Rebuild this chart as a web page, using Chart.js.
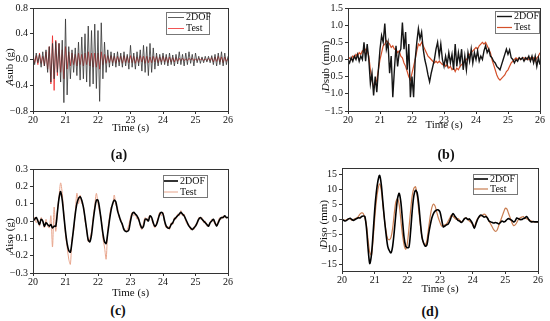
<!DOCTYPE html>
<html>
<head>
<meta charset="utf-8">
<script src="https://cdn.jsdelivr.net/npm/chart.js@4.4.1/dist/chart.umd.min.js"></script>
<style>
  body { margin:0; background:#fff; width:550px; height:321px; position:relative; overflow:hidden; }
  .panel { position:absolute; }
  .tag { position:absolute; font:bold 14px "Liberation Serif", serif; color:#111; transform:translate(-50%,-50%); }
</style>
</head>
<body>
<div class="panel" style="left:0;top:0;width:275px;height:136px"><canvas id="chartA"></canvas></div>
<div class="panel" style="left:275px;top:0;width:275px;height:136px"><canvas id="chartB"></canvas></div>
<div class="panel" style="left:0;top:160px;width:275px;height:140px"><canvas id="chartC"></canvas></div>
<div class="panel" style="left:275px;top:160px;width:275px;height:136px"><canvas id="chartD"></canvas></div>
<div class="tag" style="left:119px;top:155px">(a)</div>
<div class="tag" style="left:446px;top:155px">(b)</div>
<div class="tag" style="left:118px;top:311px">(c)</div>
<div class="tag" style="left:430px;top:312px">(d)</div>

<script>
// ---- data (time axis: 20 s to 26 s, sampled every 0.05 s) ----
const seriesNames = ["2DOF", "Test"];
const timeStart = 20, timeStep = 0.05, sampleCount = 121;
const xTicks = [20, 21, 22, 23, 24, 25, 26];
const yTicksA = [-0.8, -0.6, -0.4, -0.2, 0, 0.2, 0.4, 0.6, 0.8];
const yTicksB = [-1.5, -1.0, -0.5, 0, 0.5, 1.0, 1.5];
const yTicksC = [-0.3, -0.2, -0.1, 0, 0.1, 0.2, 0.3];
const yTicksD = [-15, -10, -5, 0, 5, 10, 15];

// (a) Asub (g)
const asub2dof = [
   0.05,-0.08, 0.10,-0.05, 0.08,-0.12, 0.12,-0.10, 0.15,-0.20,
   0.20,-0.35, 0.25,-0.30, 0.28,-0.20, 0.25,-0.35, 0.30,-0.67,
   0.63,-0.55, 0.20,-0.30, 0.15,-0.20, 0.18,-0.25, 0.27,-0.32,
   0.35,-0.30, 0.40,-0.35, 0.52,-0.42, 0.45,-0.38, 0.55,-0.45,
   0.45,-0.65, 0.57,-0.30, 0.27,-0.20, 0.15,-0.12, 0.12,-0.10,
   0.10,-0.12, 0.12,-0.10, 0.10,-0.12, 0.12,-0.10, 0.08,-0.15,
   0.22,-0.12, 0.10,-0.15, 0.12,-0.10, 0.15,-0.18, 0.22,-0.20,
   0.20,-0.25, 0.25,-0.20, 0.18,-0.15, 0.10,-0.10, 0.08,-0.08,
   0.10,-0.08, 0.08,-0.10, 0.10,-0.08, 0.07,-0.10, 0.08,-0.07,
   0.12,-0.08, 0.08,-0.10, 0.10,-0.08, 0.12,-0.06, 0.08,-0.10,
   0.10,-0.05, 0.05,-0.06, 0.04,-0.05, 0.05,-0.04, 0.05,-0.05,
   0.06,-0.08, 0.08,-0.10, 0.10,-0.08, 0.12,-0.10, 0.10,-0.08,
   0.05];
const asubTest = [
   0.08,-0.05, 0.06,-0.08, 0.10,-0.06, 0.05,-0.10, 0.12,-0.15,
   0.20,-0.38, 0.37,-0.48, 0.30,-0.25, 0.25,-0.20, 0.15,-0.30,
   0.20,-0.15, 0.12,-0.10, 0.10,-0.08, 0.08,-0.10, 0.10,-0.08,
   0.08,-0.10, 0.10,-0.08, 0.12,-0.10, 0.10,-0.12, 0.10,-0.12,
   0.10,-0.15, 0.12,-0.08, 0.08,-0.06, 0.06,-0.05, 0.06,-0.05,
   0.05,-0.06, 0.05,-0.04, 0.05,-0.06, 0.06,-0.05, 0.05,-0.05,
   0.06,-0.05, 0.05,-0.06, 0.04,-0.05, 0.06,-0.04, 0.05,-0.06,
   0.05,-0.05, 0.04,-0.05, 0.05,-0.04, 0.05,-0.05, 0.04,-0.04,
   0.05,-0.04, 0.04,-0.05, 0.04,-0.04, 0.03,-0.04, 0.03,-0.03,
   0.02,-0.02, 0.02,-0.02, 0.01,-0.02, 0.02,-0.01, 0.02,-0.02,
   0.01,-0.02, 0.02,-0.01, 0.02,-0.02, 0.01,-0.02, 0.02,-0.02,
   0.03,-0.04, 0.04,-0.03, 0.05,-0.04, 0.04,-0.05, 0.04,-0.03,
   0.02];

// (b) Dsub (mm)
const dsub2dof = [
   0.00,-0.10, 0.05,-0.05, 0.10, 0.00, 0.15,-0.05, 0.10, 0.00,
   0.50,-0.05, 0.45, 0.00,-0.70,-0.40,-1.05,-0.50,-0.95,-0.30,
   0.30, 0.70, 0.50, 1.05, 0.30, 0.50,-0.40, 0.10,-1.10,-0.30,
   0.40,-0.20, 0.20, 0.30, 1.08, 0.30, 0.80,-0.30, 0.45,-1.10,
  -0.50,-1.10, 0.00, 0.50, 0.90, 0.60, 0.80, 0.30, 0.00,-0.20,
  -0.45,-0.65,-0.40,-0.20, 0.00, 0.30, 0.50, 0.10, 0.45, 0.00,
  -0.20, 0.10,-0.15, 0.20,-0.10, 0.15,-0.30, 0.45,-0.20, 0.20,
  -0.10, 0.30,-0.30, 0.10,-0.30, 0.20,-0.05, 0.30,-0.10, 0.20,
   0.00, 0.25,-0.05, 0.10, 0.00, 0.25, 0.40, 0.20, 0.30, 0.10,
   0.05,-0.05,-0.10,-0.20,-0.25,-0.30,-0.15, 0.00, 0.15, 0.30,
   0.15, 0.28, 0.05, 0.00,-0.10, 0.00,-0.05, 0.05, 0.00, 0.05,
  -0.05, 0.05, 0.00, 0.10,-0.05, 0.10,-0.10, 0.10,-0.20, 0.05,
  -0.15];
const dsubTest = [
   0.00, 0.05, 0.00, 0.10, 0.05, 0.15, 0.10, 0.20, 0.15, 0.25,
   0.20, 0.30, 0.25, 0.10,-0.30,-0.60,-0.80,-0.70,-0.60,-0.30,
   0.00, 0.20, 0.40, 0.45, 0.55, 0.50, 0.45, 0.35, 0.40, 0.30,
   0.30, 0.20, 0.25, 0.10, 0.05,-0.10,-0.20,-0.35,-0.50,-0.60,
  -0.40,-0.20, 0.00, 0.25, 0.45, 0.40, 0.50, 0.40, 0.30, 0.20,
   0.10, 0.05, 0.00,-0.05,-0.10,-0.05,-0.10,-0.05,-0.10,-0.15,
  -0.10,-0.20,-0.15,-0.25,-0.20,-0.30,-0.25,-0.35,-0.25,-0.30,
  -0.20,-0.15,-0.10,-0.05, 0.00, 0.05, 0.15, 0.20, 0.25, 0.30,
   0.35, 0.30, 0.40, 0.45, 0.50, 0.45, 0.50, 0.40, 0.30, 0.20,
   0.00,-0.15,-0.30,-0.45,-0.55,-0.60,-0.55,-0.50,-0.45,-0.35,
  -0.30,-0.20,-0.10,-0.05, 0.00, 0.05, 0.00, 0.05, 0.00, 0.05,
   0.05, 0.00, 0.05, 0.00, 0.05, 0.00, 0.05,-0.05, 0.05, 0.10,
   0.20];

// (c) Aiso (g)
const aiso2dof = [
   0.00, 0.01, 0.02, 0.00,-0.02, 0.01, 0.00,-0.03,-0.01,-0.02,
  -0.03,-0.02,-0.04,-0.03,-0.03, 0.05, 0.13, 0.17, 0.12, 0.03,
  -0.06,-0.13,-0.17,-0.18,-0.12,-0.04, 0.04, 0.10, 0.13, 0.14,
   0.12, 0.08, 0.02,-0.05,-0.11,-0.12,-0.08, 0.00, 0.07, 0.12,
   0.12, 0.07, 0.00,-0.07,-0.12,-0.13,-0.07, 0.00, 0.06, 0.10,
   0.12, 0.11, 0.06, 0.03, 0.00,-0.02,-0.05,-0.06,-0.06,-0.05,
   0.00, 0.04, 0.05, 0.04, 0.03, 0.01,-0.02,-0.04,-0.03, 0.01,
   0.01, 0.00, 0.03, 0.02,-0.01,-0.03,-0.02, 0.01, 0.04, 0.05,
   0.04, 0.00,-0.03,-0.04,-0.04,-0.02,-0.01, 0.01, 0.02, 0.03,
   0.04, 0.05, 0.04, 0.03, 0.01,-0.01,-0.03,-0.04,-0.05,-0.04,
  -0.03,-0.01, 0.01, 0.02, 0.01, 0.00,-0.01,-0.02,-0.03,-0.01,
   0.00, 0.01,-0.01,-0.03,-0.01, 0.01, 0.02, 0.02, 0.03, 0.02,
   0.02];
const aisoTest = [
   0.01, 0.02,-0.01, 0.01,-0.03, 0.02, 0.00,-0.04, 0.01,-0.03,
  -0.04, 0.03,-0.15, 0.08,-0.06, 0.06, 0.14, 0.22, 0.16, 0.04,
  -0.08,-0.15,-0.22,-0.25,-0.10,-0.06, 0.05, 0.16, 0.10, 0.15,
   0.10, 0.09, 0.00,-0.04,-0.12,-0.10,-0.06, 0.02, 0.09, 0.16,
   0.10, 0.05, 0.02,-0.10,-0.15,-0.22,-0.05, 0.02, 0.08, 0.09,
   0.15, 0.09, 0.08, 0.02, 0.01,-0.03,-0.04,-0.06,-0.05,-0.02,
   0.02, 0.05, 0.03, 0.04, 0.01, 0.02,-0.03,-0.05,-0.01, 0.02,
   0.00, 0.02, 0.03, 0.01,-0.02,-0.04,-0.01, 0.02, 0.05, 0.03,
   0.05,-0.01,-0.04,-0.03,-0.05,-0.01,-0.02, 0.02, 0.01, 0.04,
   0.03, 0.06, 0.03, 0.04, 0.00,-0.02,-0.02,-0.05,-0.04,-0.05,
  -0.02,-0.02, 0.02, 0.01, 0.02,-0.01, 0.00,-0.03,-0.02,-0.01,
   0.01, 0.00,-0.02,-0.02, 0.00, 0.02, 0.01, 0.03, 0.02, 0.02,
   0.02];

// (d) Diso (mm)
const diso2dof = [
   0.0,-0.3,-0.5,-0.2, 0.2, 0.4, 0.0,-0.3, 0.0, 0.3,
   0.6, 0.5, 1.0, 1.2, 1.0,-3.0,-10.0,-14.8,-12.0,-5.0,
   3.0, 9.0, 13.0, 14.8, 12.0, 6.0, 0.0,-5.0,-9.0,-10.5,
  -11.2,-9.0,-4.0, 2.0, 7.0, 8.8, 6.0, 0.0,-6.0,-9.0,
  -9.5,-9.3,-4.0, 3.0, 8.0, 9.8, 9.0, 5.0,-1.0,-6.0,
  -8.0,-9.0,-8.5,-5.0,-2.0, 0.5, 2.0, 2.8, 3.2, 3.2,
   2.5, 0.0,-2.5,-2.2,-1.8,-1.5,-0.5, 1.0, 2.0, 1.2,
   0.5,-0.3,-0.5,-1.0,-0.5, 0.3, 0.5, 0.0, 0.2,-0.5,
  -1.5,-3.0,-1.5, 0.0, 1.0, 1.5, 1.2, 0.8, 1.0, 0.5,
  -0.5,-0.8,-1.0,-1.2,-1.0,-1.2,-1.5,-1.0,-0.5,-0.8,
  -0.6, 0.0, 0.3, 0.0,-0.3,-0.8,-0.5, 0.5, 0.3, 0.0,
   0.0, 0.3, 0.5, 1.0, 0.3,-0.5,-0.8,-0.7,-0.8,-0.8,
  -0.8];
const disoTest = [
   0.0,-0.2,-0.3, 0.0, 0.3, 0.2,-0.2, 0.0, 0.3, 0.5,
   1.0, 1.8, 2.2, 2.0, 0.5,-2.0,-7.0,-11.0,-12.0,-7.0,
   0.0, 6.0, 10.0, 12.0, 10.0, 5.0, 0.0,-4.0,-6.5,-6.8,
  -6.0,-3.0, 2.0, 6.0, 7.0, 5.0, 0.0,-5.0,-8.5,-10.0,
  -8.0,-3.0, 3.0, 8.0, 10.5, 11.0, 8.0, 3.0,-2.0,-6.0,
  -8.0,-8.5,-7.0,-3.0, 1.0, 4.0, 5.2, 4.5, 2.5, 0.5,
  -1.0,-2.2,-2.0,-1.8,-1.5,-0.5, 0.5, 1.5, 1.0, 0.5,
   0.0, 0.3,-0.2,-0.8,-0.5, 0.3, 0.5, 0.0,-0.5,-1.0,
  -1.8,-2.5,-1.0, 0.3, 0.8, 1.2, 1.5, 1.8, 1.5, 0.5,
  -0.5,-1.5,-2.5,-3.5,-4.0,-3.5,-2.0,-0.5, 1.0, 2.5,
   3.8, 3.5, 2.0, 0.5,-1.0,-2.0,-1.8,-1.0, 0.0, 0.5,
   0.8, 1.0, 0.5, 0.3, 0.0,-0.3,-0.5,-0.8,-0.8,-0.8,
  -0.8];

// ---- helpers ----
const serif = '"Liberation Serif", "Times New Roman", serif';
const times = [];
for (let i = 0; i < sampleCount; i++) times.push(+(timeStart + i * timeStep).toFixed(2));

function toPoints(values) {
  return values.map((v, i) => ({ x: times[i], y: v }));
}

function minusSign(str) { return String(str).replace('-', '\u2212'); }

// draws frame, legend box and y title (italic first letter)
const decoPlugin = {
  id: 'deco',
  afterDraw(chart, args, opts) {
    const ctx = chart.ctx;
    const a = chart.chartArea;
    ctx.save();
    ctx.strokeStyle = '#333';
    ctx.lineWidth = 1;
    ctx.strokeRect(Math.round(a.left) + 0.5, Math.round(a.top) + 0.5,
                   Math.round(a.right - a.left), Math.round(a.bottom - a.top));

    // legend
    const lb = opts.legendBox;
    ctx.fillStyle = '#fff';
    ctx.fillRect(lb[0], lb[1], lb[2], lb[3]);
    ctx.strokeStyle = '#777';
    ctx.strokeRect(lb[0] + 0.5, lb[1] + 0.5, lb[2], lb[3]);
    ctx.font = '10px ' + serif;
    ctx.textBaseline = 'middle';
    chart.data.datasets.forEach((ds, i) => {
      const y = opts.legendRows[i];
      ctx.strokeStyle = ds.borderColor;
      ctx.lineWidth = ds.borderWidth;
      ctx.beginPath();
      ctx.moveTo(opts.legendLine[0], y);
      ctx.lineTo(opts.legendLine[1], y);
      ctx.stroke();
      ctx.fillStyle = '#111';
      ctx.fillText(ds.label, opts.legendText, y);
    });

    // y title
    ctx.translate(opts.yTitlePos[0], opts.yTitlePos[1]);
    ctx.rotate(-Math.PI / 2);
    const f1 = 'italic 11px ' + serif, f2 = '11px ' + serif;
    ctx.font = f1; const w1 = ctx.measureText(opts.yTitle[0]).width;
    ctx.font = f2; const w2 = ctx.measureText(opts.yTitle[1]).width;
    let x = -(w1 + w2) / 2;
    ctx.fillStyle = '#111';
    ctx.textBaseline = 'middle';
    ctx.font = f1; ctx.fillText(opts.yTitle[0], x, 0);
    ctx.font = f2; ctx.fillText(opts.yTitle[1], x + w1, 0);
    ctx.restore();
  }
};

function makePanel(id, p) {
  return new Chart(document.getElementById(id), {
    type: 'line',
    data: {
      datasets: [
        { label: seriesNames[0], data: toPoints(p.model), borderColor: p.modelColor,
          borderWidth: p.modelWidth, pointRadius: 0, tension: p.tension },
        { label: seriesNames[1], data: toPoints(p.test), borderColor: p.testColor,
          borderWidth: p.testWidth, pointRadius: 0, tension: p.tension }
      ]
    },
    options: {
      responsive: true,
      maintainAspectRatio: false,
      animation: false,
      layout: { padding: p.padding },
      plugins: {
        legend: { display: false },
        tooltip: { enabled: false },
        deco: p.deco
      },
      scales: {
        x: {
          type: 'linear', min: 20, max: 26,
          afterBuildTicks(scale) { scale.ticks = xTicks.map(v => ({ value: v })); },
          afterFit(scale) { scale.height = p.xHeight; },
          grid: { drawOnChartArea: false, tickLength: 3, color: '#333' },
          border: { color: '#333' },
          ticks: { color: '#111', font: { family: serif, size: 10 }, padding: 0, maxRotation: 0 },
          title: { display: true, text: 'Time (s)', color: '#111',
                   font: { family: serif, size: 11 }, padding: { top: 0, bottom: p.titlePad } }
        },
        y: {
          min: p.yMin, max: p.yMax,
          afterBuildTicks(scale) { scale.ticks = p.yTicks.map(v => ({ value: v })); },
          ticks: { color: '#111', font: { family: serif, size: 10 }, padding: 2,
                   callback: v => minusSign(v.toFixed(p.yDigits)) },
          afterFit(scale) { scale.width = p.yWidth; },
          grid: { drawOnChartArea: false, tickLength: 3, color: '#333' },
          border: { color: '#333' }
        }
      }
    },
    plugins: [decoPlugin]
  });
}

makePanel('chartA', {
  model: asub2dof, test: asubTest,
  modelColor: '#333333', modelWidth: 0.8, testColor: '#ee2a2a', testWidth: 0.8, tension: 0,
  padding: { left: 0, right: 47, top: 6, bottom: 0 }, xHeight: 25, yWidth: 33, titlePad: 1,
  yMin: -0.8, yMax: 0.8, yTicks: yTicksA, yDigits: 1,
  deco: { legendBox: [166, 12, 43, 22], legendRows: [17.5, 28.5], legendLine: [168, 184], legendText: 186,
          yTitle: ['A', 'sub (g)'], yTitlePos: [10, 67] }
});

makePanel('chartB', {
  model: dsub2dof, test: dsubTest,
  modelColor: '#151515', modelWidth: 1.4, testColor: '#d4502a', testWidth: 1.2, tension: 0,
  padding: { left: 39, right: 10, top: 6, bottom: 0 }, xHeight: 25, yWidth: 34, titlePad: 4,
  yMin: -1.5, yMax: 1.5, yTicks: yTicksB, yDigits: 1,
  deco: { legendBox: [220, 11, 44, 22], legendRows: [16.5, 27.5], legendLine: [222, 237], legendText: 239,
          yTitle: ['D', 'sub (mm)'], yTitlePos: [51, 66] }
});

makePanel('chartC', {
  model: aiso2dof, test: aisoTest,
  modelColor: '#000000', modelWidth: 1.6, testColor: '#e8a58c', testWidth: 1, tension: 0.3,
  padding: { left: 0, right: 47, top: 9, bottom: 0 }, xHeight: 27, yWidth: 33, titlePad: 0,
  yMin: -0.3, yMax: 0.3, yTicks: yTicksC, yDigits: 1,
  deco: { legendBox: [163, 15, 44, 22], legendRows: [21, 32], legendLine: [164, 178], legendText: 180,
          yTitle: ['A', 'iso (g)'], yTitlePos: [10, 76] }
});

makePanel('chartD', {
  model: diso2dof, test: disoTest,
  modelColor: '#000000', modelWidth: 1.6, testColor: '#c97d50', testWidth: 1.2, tension: 0.3,
  padding: { left: 33, right: 12, top: 7, bottom: 0 }, xHeight: 25, yWidth: 34, titlePad: 0,
  yMin: -17.3, yMax: 17.3, yTicks: yTicksD, yDigits: 0,
  deco: { legendBox: [198, 14, 44, 20], legendRows: [19, 29], legendLine: [199, 213], legendText: 215,
          yTitle: ['D', 'iso (mm)'], yTitlePos: [49, 64] }
});
</script>
</body>
</html>
